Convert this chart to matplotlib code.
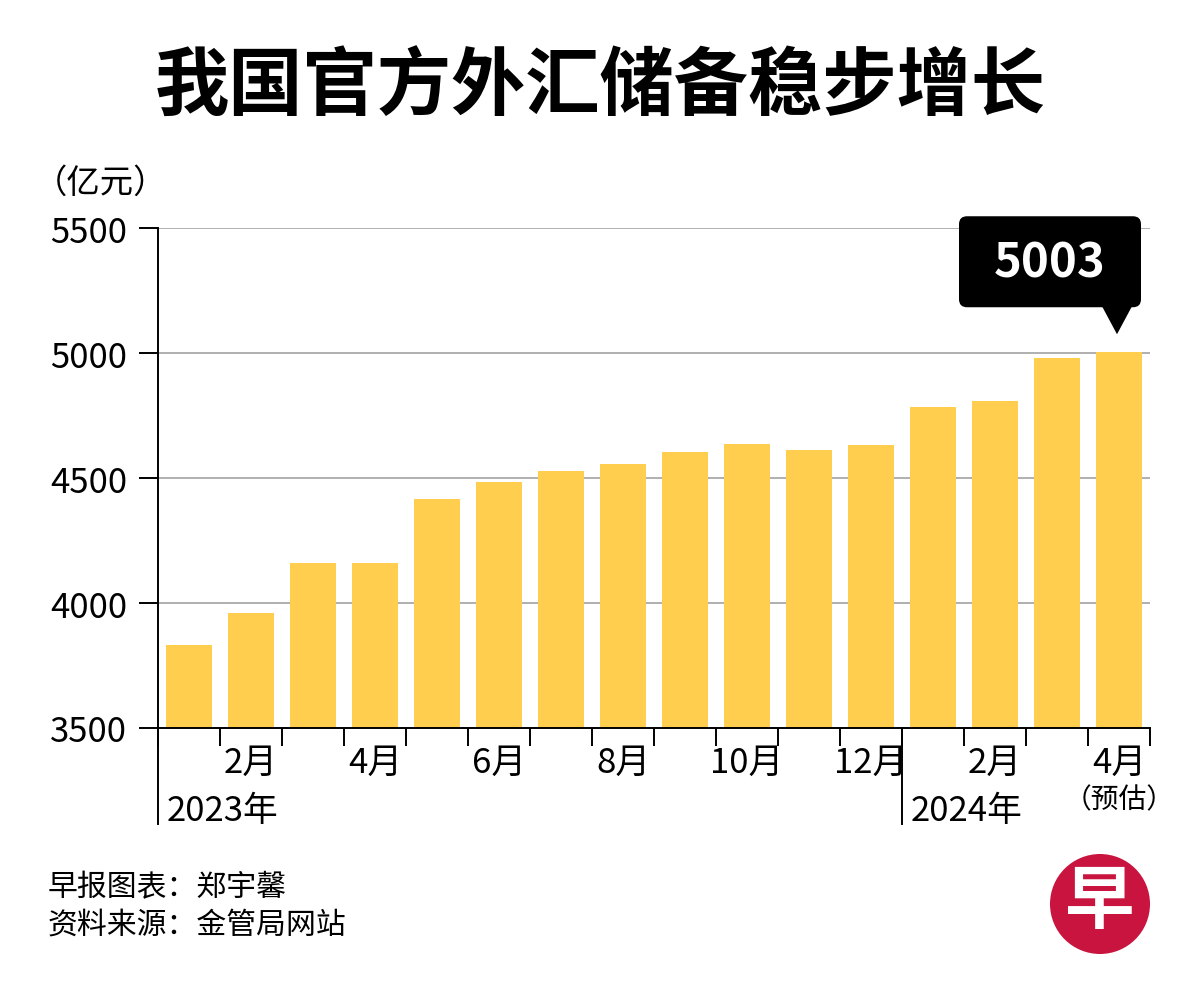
import numpy as np
import matplotlib
matplotlib.use("Agg")
import matplotlib.pyplot as plt
import matplotlib.patches as patches
import matplotlib.transforms as mtransforms

plt.rcParams['font.family'] = ['Noto Sans CJK SC', 'DejaVu Sans']

# data (亿元, monthly, Jan 2023 - Apr 2024)
reserves = [3832, 3960, 4160, 4162, 4416, 4484, 4528, 4556,
            4604, 4636, 4612, 4632, 4784, 4808, 4980, 5003]
month_labels = ['', '2月', '', '4月', '', '6月', '', '8月',
                '', '10月', '', '12月', '', '2月', '', '4月']
years = ['2023年', '2024年']
year_start = [0, 12]
y_ticks = [3500, 4000, 4500, 5000, 5500]
callout = '5003'

BAR = '#FFCE4E'

fig = plt.figure(figsize=(12, 10.04), dpi=100)
ax = fig.add_axes([158 / 1200, 275 / 1004, 992 / 1200, 500 / 1004])

x = np.arange(len(reserves))
ax.bar(x, reserves, width=0.73, color=BAR, zorder=2)
ax.set_xlim(-0.5, len(reserves) - 0.5)
ax.set_ylim(3500, 5500)
ax.set_axisbelow(True)

for v in y_ticks[1:]:
    ax.axhline(v, color='#9a9a9a', lw=1.1, zorder=0)

for s in ['top', 'right']:
    ax.spines[s].set_visible(False)
ax.spines['left'].set_linewidth(1.4)
ax.spines['bottom'].set_linewidth(1.4)

ax.set_yticks(y_ticks)
ax.set_yticklabels([str(v) for v in y_ticks], fontsize=25)
ax.tick_params(axis='y', length=14, width=1.4, pad=8)

ax.set_xticks(x)
ax.set_xticklabels(month_labels, fontsize=25)
ax.tick_params(axis='x', which='major', length=0, pad=12)
ax.set_xticks(np.arange(-0.5, len(reserves), 1), minor=True)
ax.tick_params(axis='x', which='minor', length=13, width=1.4)

blend = mtransforms.blended_transform_factory(ax.transData, ax.transAxes)
for yr, i0 in zip(years, year_start):
    ax.plot([i0 - 0.5, i0 - 0.5], [0, -0.192], transform=blend,
            color='black', lw=1.4, clip_on=False)
    ax.text(i0 - 0.5 + 0.14, -0.164, yr, transform=blend, fontsize=25,
            ha='left', va='center')
ax.text(x[-1], -0.142, '（预估）', transform=blend, fontsize=20,
        ha='center', va='center')

# callout box anchored to the last bar
anchor = mtransforms.ScaledTranslation(x[-1], reserves[-1], ax.transData)
trans = fig.dpi_scale_trans + anchor
box = patches.FancyBboxPatch((-1.60, 0.45), 1.82, 0.91,
                             boxstyle='round,pad=0,rounding_size=0.08',
                             fc='black', ec='none', transform=trans,
                             clip_on=False, zorder=5)
ax.add_patch(box)
tri = patches.Polygon([(-0.17, 0.46), (0.13, 0.46), (-0.02, 0.18)],
                      closed=True, fc='black', ec='none', transform=trans,
                      clip_on=False, zorder=5)
ax.add_patch(tri)
ax.text(-0.69, 0.90, callout, transform=trans, color='white', fontsize=34,
        fontweight='bold', ha='center', va='center', zorder=6)

# titles and notes
fig.text(0.5, 1 - 88 / 1004, '我国官方外汇储备稳步增长', fontsize=53.5,
         fontweight='bold', ha='center', va='center')
fig.text(34 / 1200, 1 - 183 / 1004, '（亿元）', fontsize=24,
         ha='left', va='center')
fig.text(48 / 1200, 1 - 888 / 1004, '早报图表：郑宇馨', fontsize=21.5,
         ha='left', va='center')
fig.text(48 / 1200, 1 - 925 / 1004, '资料来源：金管局网站', fontsize=21.5,
         ha='left', va='center')

# logo
ident = mtransforms.IdentityTransform()
fig.add_artist(patches.Circle((1100, 1004 - 905), 50, fc='#C8143E',
                              ec='none', transform=ident))
fig.text(1100 / 1200, 1 - 903 / 1004, '早', color='white', fontsize=50,
         fontweight='bold', ha='center', va='center')

fig.savefig('out.png', dpi=100, facecolor='white')
